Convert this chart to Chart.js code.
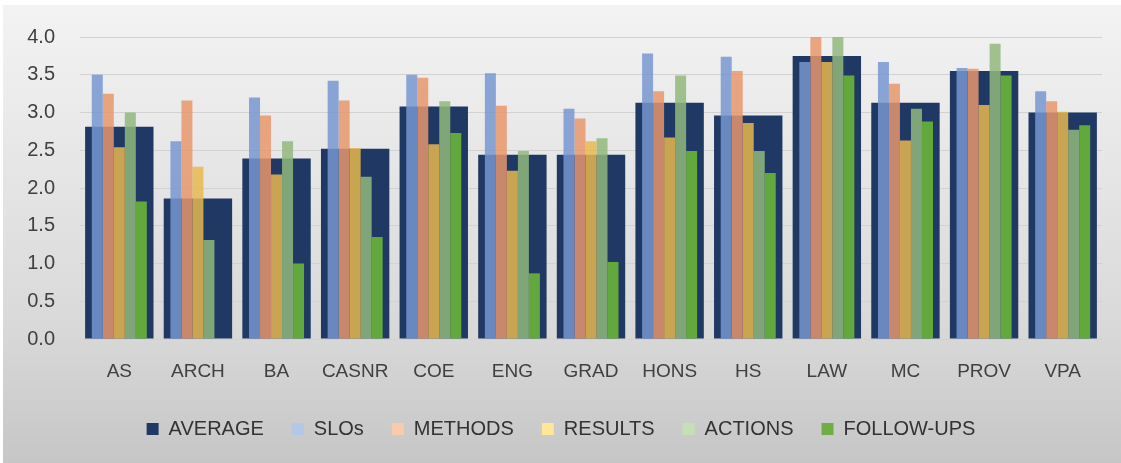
<!DOCTYPE html>
<html>
<head>
<meta charset="utf-8">
<script src="https://cdn.jsdelivr.net/npm/chart.js@4"></script>
<style>
  html, body { margin: 0; padding: 0; background: #ffffff; }
  #wrap { width: 1121px; height: 463px; }
</style>
</head>
<body>
<div id="wrap"><canvas id="units-chart"></canvas></div>
<script>
// categories and series values
const units = ['AS', 'ARCH', 'BA', 'CASNR', 'COE', 'ENG', 'GRAD', 'HONS', 'HS', 'LAW', 'MC', 'PROV', 'VPA'];
const average   = [2.81, 1.86, 2.39, 2.52, 3.08, 2.44, 2.44, 3.13, 2.96, 3.75, 3.13, 3.55, 3.00];
const slos      = [3.50, 2.62, 3.20, 3.42, 3.50, 3.52, 3.05, 3.78, 3.74, 3.67, 3.67, 3.59, 3.28];
const methods   = [3.25, 3.16, 2.96, 3.16, 3.46, 3.09, 2.92, 3.28, 3.55, 4.00, 3.38, 3.58, 3.15];
const results   = [2.54, 2.28, 2.18, 2.53, 2.58, 2.23, 2.62, 2.67, 2.86, 3.67, 2.63, 3.10, 3.01];
const actions   = [3.00, 1.31, 2.62, 2.15, 3.15, 2.49, 2.66, 3.49, 2.49, 4.00, 3.05, 3.91, 2.77];
const followUps = [1.82, 0.00, 1.00, 1.35, 2.73, 0.87, 1.02, 2.49, 2.20, 3.49, 2.88, 3.49, 2.83];
const yTicks = [0, 0.5, 1, 1.5, 2, 2.5, 3, 3.5, 4];

const textColor = '#404040';
const gridColor = '#d2d2d2';
const fontFamily = "'Liberation Sans', Arial, sans-serif";

// pale legend swatches like the original
const legendSwatch = ['#203864', '#b4c7e7', '#f8cbad', '#ffe699', '#c5e0b4', '#70ad47'];

const backgroundPlugin = {
    id: 'panelBackground',
    beforeDraw(chart) {
        const { ctx, width, height } = chart;
        ctx.save();
        ctx.fillStyle = '#ffffff';
        ctx.fillRect(0, 0, width, height);
        const g = ctx.createLinearGradient(0, 5, 0, height);
        g.addColorStop(0, '#f3f3f3');
        g.addColorStop(0.7, '#d9d9d9');
        g.addColorStop(1, '#c6c6c6');
        ctx.fillStyle = g;
        ctx.fillRect(3, 5, width - 3, height - 5);
        ctx.restore();
    }
};

function smallBar(label, data, color) {
    return {
        label: label,
        data: data,
        backgroundColor: color,
        categoryPercentage: 0.70,
        barPercentage: 1.0,
        order: 0
    };
}

const ctx = document.getElementById('units-chart').getContext('2d');
new Chart(ctx, {
    type: 'bar',
    data: {
        labels: units,
        datasets: [
            {
                label: 'AVERAGE',
                data: average,
                grouped: false,
                backgroundColor: '#1f3864',
                categoryPercentage: 0.87,
                barPercentage: 1.0,
                order: 1 // drawn behind the other bars
            },
            smallBar('SLOs', slos, 'rgba(120, 150, 208, 0.85)'),
            smallBar('METHODS', methods, 'rgba(232, 150, 108, 0.85)'),
            smallBar('RESULTS', results, 'rgba(232, 184, 78, 0.85)'),
            smallBar('ACTIONS', actions, 'rgba(146, 184, 124, 0.85)'),
            smallBar('FOLLOW-UPS', followUps, 'rgba(104, 178, 58, 0.92)')
        ]
    },
    options: {
        responsive: true,
        maintainAspectRatio: false,
        animation: false,
        layout: {
            padding: { top: 33, left: 10, right: 9, bottom: 14 }
        },
        scales: {
            x: {
                offset: true,
                grid: { display: false, drawTicks: false },
                border: { display: false },
                ticks: {
                    color: textColor,
                    padding: 21,
                    maxRotation: 0,
                    font: { family: fontFamily, size: 19 }
                },
                afterFit(scale) { scale.height = 52; }
            },
            y: {
                min: 0,
                max: 4,
                afterBuildTicks(scale) {
                    scale.ticks = yTicks.map(v => ({ value: v }));
                },
                grid: { color: gridColor, drawTicks: false, lineWidth: 1 },
                border: { display: false },
                ticks: {
                    color: textColor,
                    padding: 25,
                    font: { family: fontFamily, size: 20 },
                    callback: v => v.toFixed(1)
                },
                afterFit(scale) { scale.width = 70; }
            },
            yPad: {
                position: 'right',
                min: 0,
                max: 4,
                grid: { display: false, drawTicks: false },
                border: { display: false },
                ticks: { display: false },
                afterFit(scale) { scale.width = 10; }
            }
        },
        plugins: {
            legend: {
                position: 'bottom',
                labels: {
                    color: '#333333',
                    boxWidth: 12,
                    boxHeight: 12,
                    padding: 28,
                    font: { family: fontFamily, size: 20 },
                    sort: (a, b) => a.datasetIndex - b.datasetIndex,
                    generateLabels(chart) {
                        const items = Chart.defaults.plugins.legend.labels.generateLabels(chart);
                        items.forEach(it => {
                            it.fillStyle = legendSwatch[it.datasetIndex];
                            it.strokeStyle = legendSwatch[it.datasetIndex];
                            it.lineWidth = 0;
                        });
                        return items;
                    }
                }
            },
            tooltip: { enabled: false }
        }
    },
    plugins: [backgroundPlugin]
});
</script>
</body>
</html>
